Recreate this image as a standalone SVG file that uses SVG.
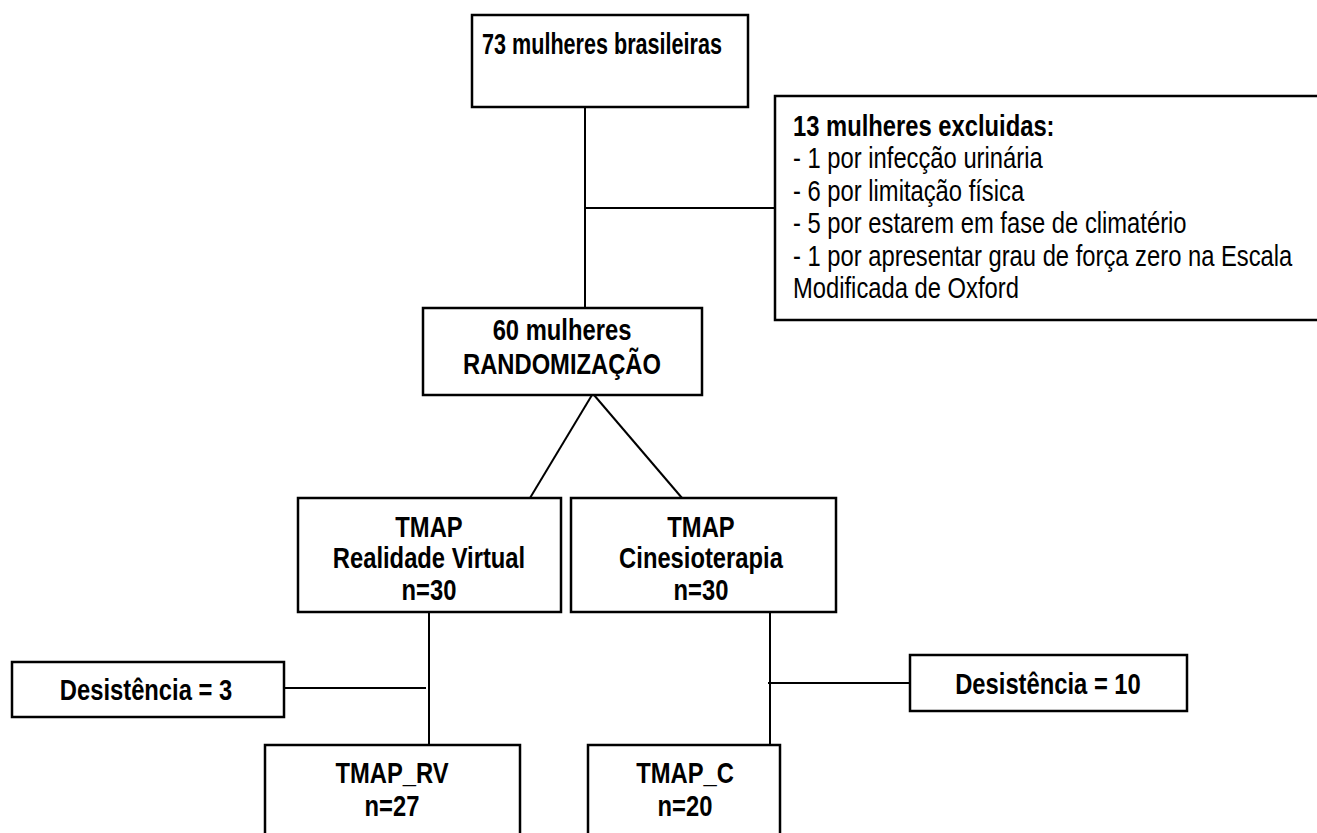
<svg xmlns="http://www.w3.org/2000/svg" width="1317" height="833" viewBox="0 0 1317 833">
<style>
.box{fill:#fff;stroke:#000;stroke-width:2.5}
.ln{stroke:#000;stroke-width:2;fill:none}
.t{font-family:"Liberation Sans",Arial,sans-serif;font-size:29px;fill:#000}
.b{font-weight:bold}
.c{text-anchor:middle}
</style>
<rect width="1317" height="833" fill="#fff"/>
<g id="connectors">
<line class="ln" x1="585" y1="107" x2="585" y2="308"/>
<line class="ln" x1="585" y1="208" x2="775" y2="208"/>
<line class="ln" x1="592" y1="395" x2="530" y2="498"/>
<line class="ln" x1="594" y1="395" x2="682" y2="498"/>
<line class="ln" x1="429" y1="612" x2="429" y2="745"/>
<line class="ln" x1="284" y1="688" x2="426" y2="688"/>
<line class="ln" x1="770" y1="612" x2="770" y2="745"/>
<line class="ln" x1="768" y1="683" x2="910" y2="683"/>
</g>
<g id="n73">
<rect class="box" x="472" y="15" width="276" height="92"/>
<text class="t b" x="482" y="54" textLength="240" lengthAdjust="spacingAndGlyphs">73 mulheres brasileiras</text>
</g>
<g id="excluidas">
<rect class="box" x="775" y="96" width="560" height="224"/>
<g class="t" transform="translate(793,0) scale(0.82,1)">
<text class="b" y="136">13 mulheres excluidas:</text>
<text y="168">- 1 por infecção urinária</text>
<text y="201">- 6 por limitação física</text>
<text y="233">- 5 por estarem em fase de climatério</text>
<text y="266">- 1 por apresentar grau de força zero na Escala</text>
<text y="298">Modificada de Oxford</text>
</g>
</g>
<g id="n60">
<rect class="box" x="423" y="308" width="279" height="87"/>
<text class="t b c" transform="translate(562,340) scale(0.82,1)">60 mulheres</text>
<text class="t b c" transform="translate(562,374) scale(0.82,1)">RANDOMIZAÇÃO</text>
</g>
<g id="rv">
<rect class="box" x="298" y="498" width="263" height="114"/>
<text class="t b c" transform="translate(429,537) scale(0.82,1)">TMAP</text>
<text class="t b c" transform="translate(429,568) scale(0.82,1)">Realidade Virtual</text>
<text class="t b c" transform="translate(429,600) scale(0.82,1)">n=30</text>
</g>
<g id="cin">
<rect class="box" x="571" y="498" width="265" height="114"/>
<text class="t b c" transform="translate(701,537) scale(0.82,1)">TMAP</text>
<text class="t b c" transform="translate(701,568) scale(0.82,1)">Cinesioterapia</text>
<text class="t b c" transform="translate(701,600) scale(0.82,1)">n=30</text>
</g>
<g id="des3">
<rect class="box" x="12" y="662" width="272" height="55"/>
<text class="t b c" transform="translate(146,700) scale(0.82,1)">Desistência = 3</text>
</g>
<g id="des10">
<rect class="box" x="910" y="655" width="277" height="56"/>
<text class="t b c" transform="translate(1048,694) scale(0.82,1)">Desistência = 10</text>
</g>
<g id="rv2">
<rect class="box" x="265" y="745" width="255" height="100"/>
<text class="t b c" transform="translate(392,783) scale(0.82,1)">TMAP_RV</text>
<text class="t b c" transform="translate(392,816) scale(0.82,1)">n=27</text>
</g>
<g id="c2">
<rect class="box" x="588" y="745" width="192" height="100"/>
<text class="t b c" transform="translate(685,783) scale(0.82,1)">TMAP_C</text>
<text class="t b c" transform="translate(685,816) scale(0.82,1)">n=20</text>
</g>
</svg>
